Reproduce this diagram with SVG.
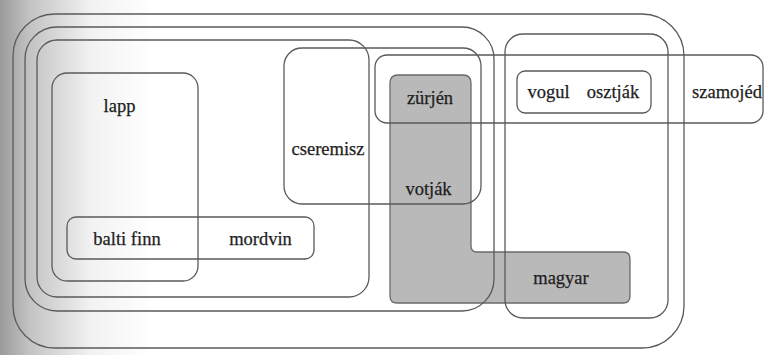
<svg xmlns="http://www.w3.org/2000/svg" width="764" height="355" viewBox="0 0 764 355">
  <defs>
    <linearGradient id="shadow" x1="0" y1="0" x2="1" y2="0">
      <stop offset="0" stop-color="#9a9a9a"/>
      <stop offset="0.04" stop-color="#c4c4c4"/>
      <stop offset="0.12" stop-color="#f2f2f2"/>
      <stop offset="0.2" stop-color="#ffffff"/>
      <stop offset="1" stop-color="#ffffff"/>
    </linearGradient>
  </defs>
  <style>
    .box { fill: none; stroke: #5a5a5a; stroke-width: 1.3; }
    .shade { fill: #b9b9b9; stroke: #6a6a6a; stroke-width: 1.3; }
    .lbl { font-family: "Liberation Serif", "Times New Roman", serif; font-size: 18.5px; fill: #1e1e1e; text-anchor: middle; stroke: #1e1e1e; stroke-width: 0.25; }
  </style>
  <rect x="0" y="0" width="764" height="355" fill="url(#shadow)"/>

  <g id="node-permic-magyar">
    <path class="shade" d="M398,75 H463 Q471,75 471,83 V246 Q471,252 477,252 H623 Q630,252 630,259 V296 Q630,303 623,303 H397 Q390,303 390,296 V83 Q390,75 398,75 Z"/>
  </g>

  <g id="connectors"></g>

  <g id="node-outer">
    <rect class="box" x="13" y="14" width="671" height="334" rx="42" ry="42"/>
  </g>
  <g id="node-second">
    <rect class="box" x="25" y="27" width="469" height="284" rx="32" ry="32"/>
  </g>
  <g id="node-third">
    <rect class="box" x="37" y="40" width="332" height="257" rx="20" ry="20"/>
  </g>
  <g id="node-lapp">
    <rect class="box" x="52" y="73" width="146" height="208" rx="15" ry="15"/>
    <text class="lbl" x="119.5" y="112">lapp</text>
  </g>
  <g id="node-balti-mordvin">
    <rect class="box" x="67" y="217" width="247" height="42" rx="9" ry="9"/>
    <text class="lbl" x="127" y="245">balti finn</text>
    <text class="lbl" x="260.5" y="245">mordvin</text>
  </g>
  <g id="node-cseremisz">
    <rect class="box" x="284" y="48" width="197" height="156" rx="18" ry="18"/>
    <text class="lbl" x="328" y="155">cseremisz</text>
  </g>
  <g id="node-szamojed">
    <rect class="box" x="375" y="55" width="388" height="68" rx="12" ry="12"/>
    <text class="lbl" x="727" y="98">szamojéd</text>
  </g>
  <g id="node-ugric">
    <rect class="box" x="505" y="34" width="163" height="284" rx="18" ry="18"/>
  </g>
  <g id="node-vogul-osztjak">
    <rect class="box" x="517" y="71" width="134" height="42" rx="8" ry="8"/>
    <text class="lbl" x="548.5" y="98">vogul</text>
    <text class="lbl" x="613" y="98">osztják</text>
  </g>
  <g id="labels-shaded">
    <text class="lbl" x="430" y="104">zürjén</text>
    <text class="lbl" x="428.5" y="195">votják</text>
    <text class="lbl" x="561" y="284">magyar</text>
  </g>
</svg>
